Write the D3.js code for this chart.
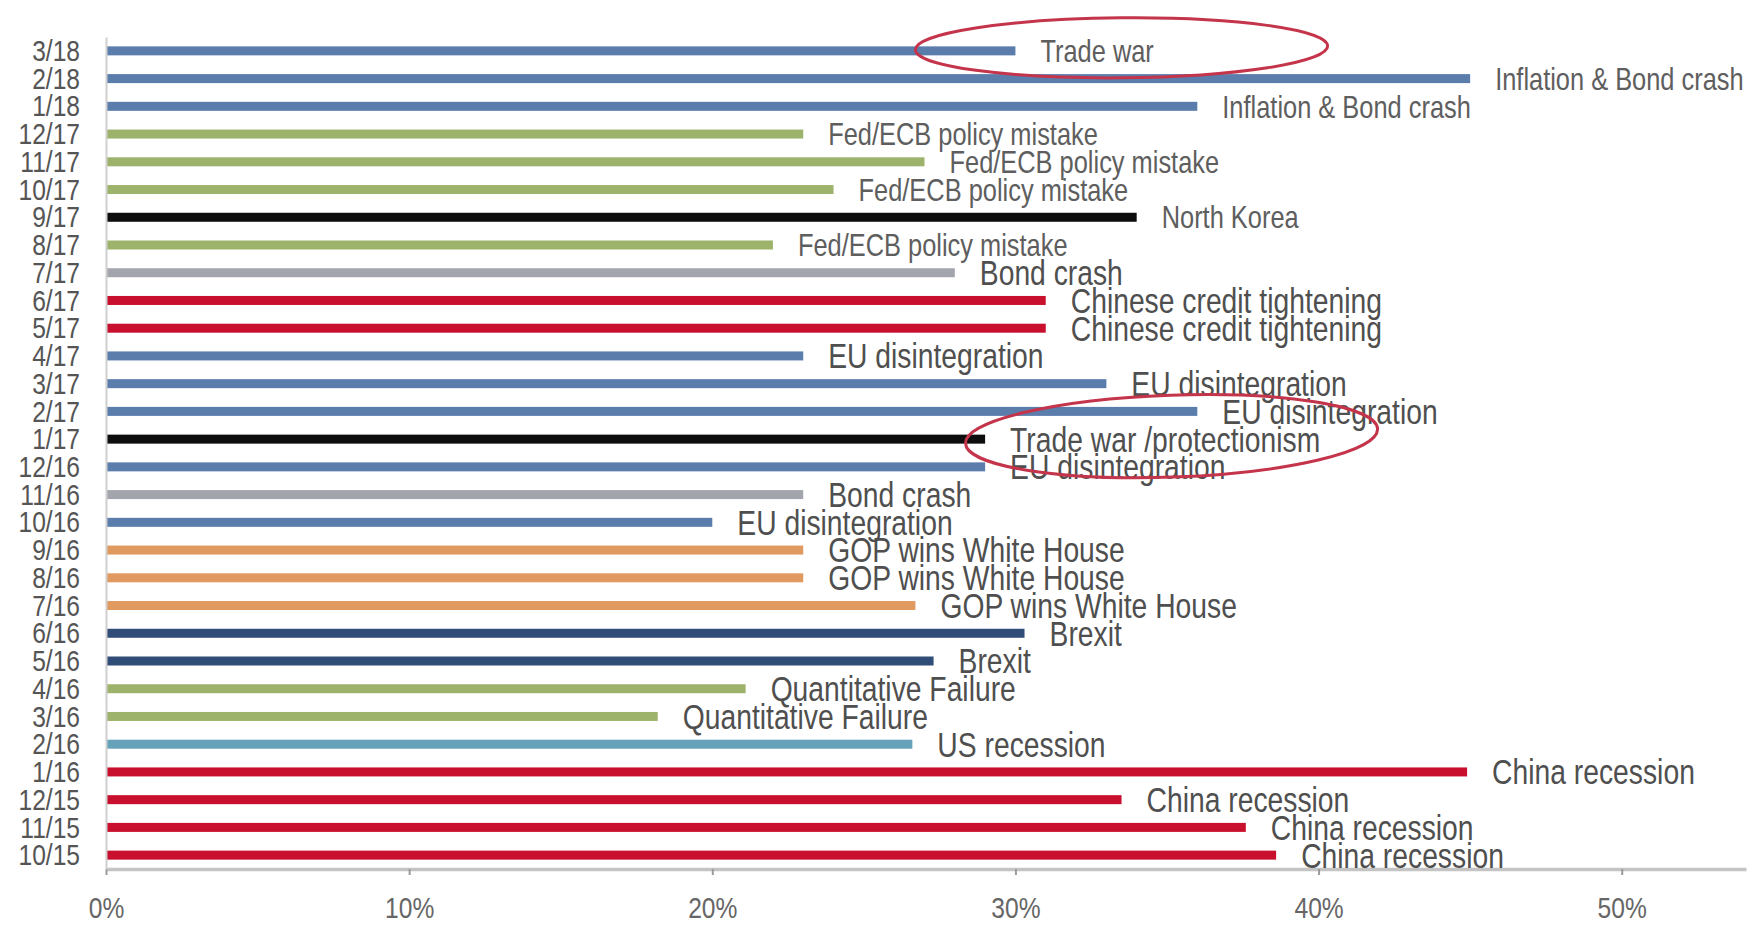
<!DOCTYPE html>
<html>
<head>
<meta charset="utf-8">
<script src="https://cdn.jsdelivr.net/npm/d3@7"></script>
<style>
  html, body { margin: 0; padding: 0; background: #fff; }
  svg { display: block; }
  text { font-family: "Liberation Sans", Arial, sans-serif; }
</style>
</head>
<body>
<svg id="chart" width="1758" height="930"></svg>
<script>
// Survey months, newest first (top of the chart)
const months = ["3/18","2/18","1/18","12/17","11/17","10/17","9/17","8/17","7/17","6/17",
                "5/17","4/17","3/17","2/17","1/17","12/16","11/16","10/16","9/16","8/16",
                "7/16","6/16","5/16","4/16","3/16","2/16","1/16","12/15","11/15","10/15"];

// Share of respondents naming the biggest tail risk (%)
const shares = [30, 45, 36, 23, 27, 24, 34, 22, 28, 31,
                31, 23, 33, 36, 29, 29, 23, 20, 23, 23,
                26.7, 30.3, 27.3, 21.1, 18.2, 26.6, 44.9, 33.5, 37.6, 38.6];

// Biggest tail risk named that month
const risks = ["Trade war","Inflation & Bond crash","Inflation & Bond crash","Fed/ECB policy mistake",
               "Fed/ECB policy mistake","Fed/ECB policy mistake","North Korea","Fed/ECB policy mistake",
               "Bond crash","Chinese credit tightening","Chinese credit tightening","EU disintegration",
               "EU disintegration","EU disintegration","Trade war /protectionism","EU disintegration",
               "Bond crash","EU disintegration","GOP wins White House","GOP wins White House",
               "GOP wins White House","Brexit","Brexit","Quantitative Failure","Quantitative Failure",
               "US recession","China recession","China recession","China recession","China recession"];

// Axis tick values (%)
const xTicks = [0, 10, 20, 30, 40, 50];

// Months whose risk is circled
const circled = ["3/18", "1/17"];

const rows = months.map((m, i) => ({ month: m, share: shares[i], risk: risks[i] }));

const svg = d3.select("#chart");
const NARROW = 0.82; // horizontal squeeze giving a condensed face

const x = d3.scaleLinear().domain([0, 54.1]).range([106, 1746]);
const y = d3.scalePoint().domain(months).range([37, 869]).padding(0.5);

// One colour per risk theme
const colour = d3.scaleOrdinal()
  .domain(["Trade war","Inflation & Bond crash","Fed/ECB policy mistake","North Korea","Bond crash",
           "Chinese credit tightening","EU disintegration","Trade war /protectionism","GOP wins White House",
           "Brexit","Quantitative Failure","US recession","China recession"])
  .range(["#5b7dac","#5b7dac","#9db36b","#0d0d0d","#a3a5ac",
          "#c8102e","#5b7dac","#0d0d0d","#e09a5f",
          "#2f4d77","#9db36b","#66a2b9","#c8102e"]);

// Labels for the most recent months are set a little smaller
const smallLabel = new Set(["3/18","2/18","1/18","12/17","11/17","10/17","9/17","8/17"]);

// Bars
svg.append("g")
  .selectAll("rect")
  .data(rows)
  .join("rect")
  .attr("x", x(0))
  .attr("y", d => y(d.month) - 4.5)
  .attr("width", d => x(d.share) - x(0))
  .attr("height", 9)
  .attr("fill", d => colour(d.risk));

// X axis
const xAxis = svg.append("g")
  .attr("transform", `translate(0,${y.range()[1]})`)
  .call(d3.axisBottom(x).tickValues(xTicks).tickFormat(d => d + "%").tickSize(6).tickSizeOuter(0).tickPadding(22));
xAxis.select(".domain").attr("stroke", "#c4c4c4").attr("stroke-width", 3.5);
xAxis.selectAll(".tick line").attr("stroke", "#9a9a9a").attr("stroke-width", 2);
xAxis.selectAll(".tick text")
  .attr("font-size", 30).attr("fill", "#666")
  .attr("transform", `scale(${NARROW},1)`);

// Y axis
const yAxis = svg.append("g")
  .attr("transform", `translate(${x(0)},0)`)
  .call(d3.axisLeft(y).tickSize(0).tickPadding(26));
yAxis.select(".domain").attr("stroke", "#cfcfcf").attr("stroke-width", 2);
yAxis.selectAll(".tick text")
  .attr("font-size", 30).attr("fill", "#555")
  .attr("x", -26 / NARROW)
  .attr("transform", `scale(${NARROW},1)`);

// Risk labels at the bar ends
svg.append("g")
  .selectAll("text")
  .data(rows)
  .join("text")
  .attr("transform", d => `translate(${x(d.share) + 25},${y(d.month)}) scale(${NARROW},1)`)
  .attr("dy", "0.36em")
  .attr("font-size", d => smallLabel.has(d.month) ? 31 : 34.5)
  .attr("fill", d => smallLabel.has(d.month) ? "#5e5e5e" : "#4f4f4f")
  .text(d => d.risk);

// Hand-drawn style rings around the trade-war calls
const rings = circled.map((m, i) => ({
  cy: y(m) - 3,
  x0: i === 0 ? x(26.7) : x(28.35),
  x1: i === 0 ? x(40.3) : x(41.95),
  ry: i === 0 ? 30 : 41,
  tilt: i === 0 ? -0.5 : -2
}));
svg.append("g")
  .selectAll("ellipse")
  .data(rings)
  .join("ellipse")
  .attr("cx", d => (d.x0 + d.x1) / 2)
  .attr("cy", d => d.cy)
  .attr("rx", d => (d.x1 - d.x0) / 2)
  .attr("ry", d => d.ry)
  .attr("transform", d => `rotate(${d.tilt},${(d.x0 + d.x1) / 2},${d.cy})`)
  .attr("fill", "none")
  .attr("stroke", "#c4344a")
  .attr("stroke-width", 3);
</script>
</body>
</html>
